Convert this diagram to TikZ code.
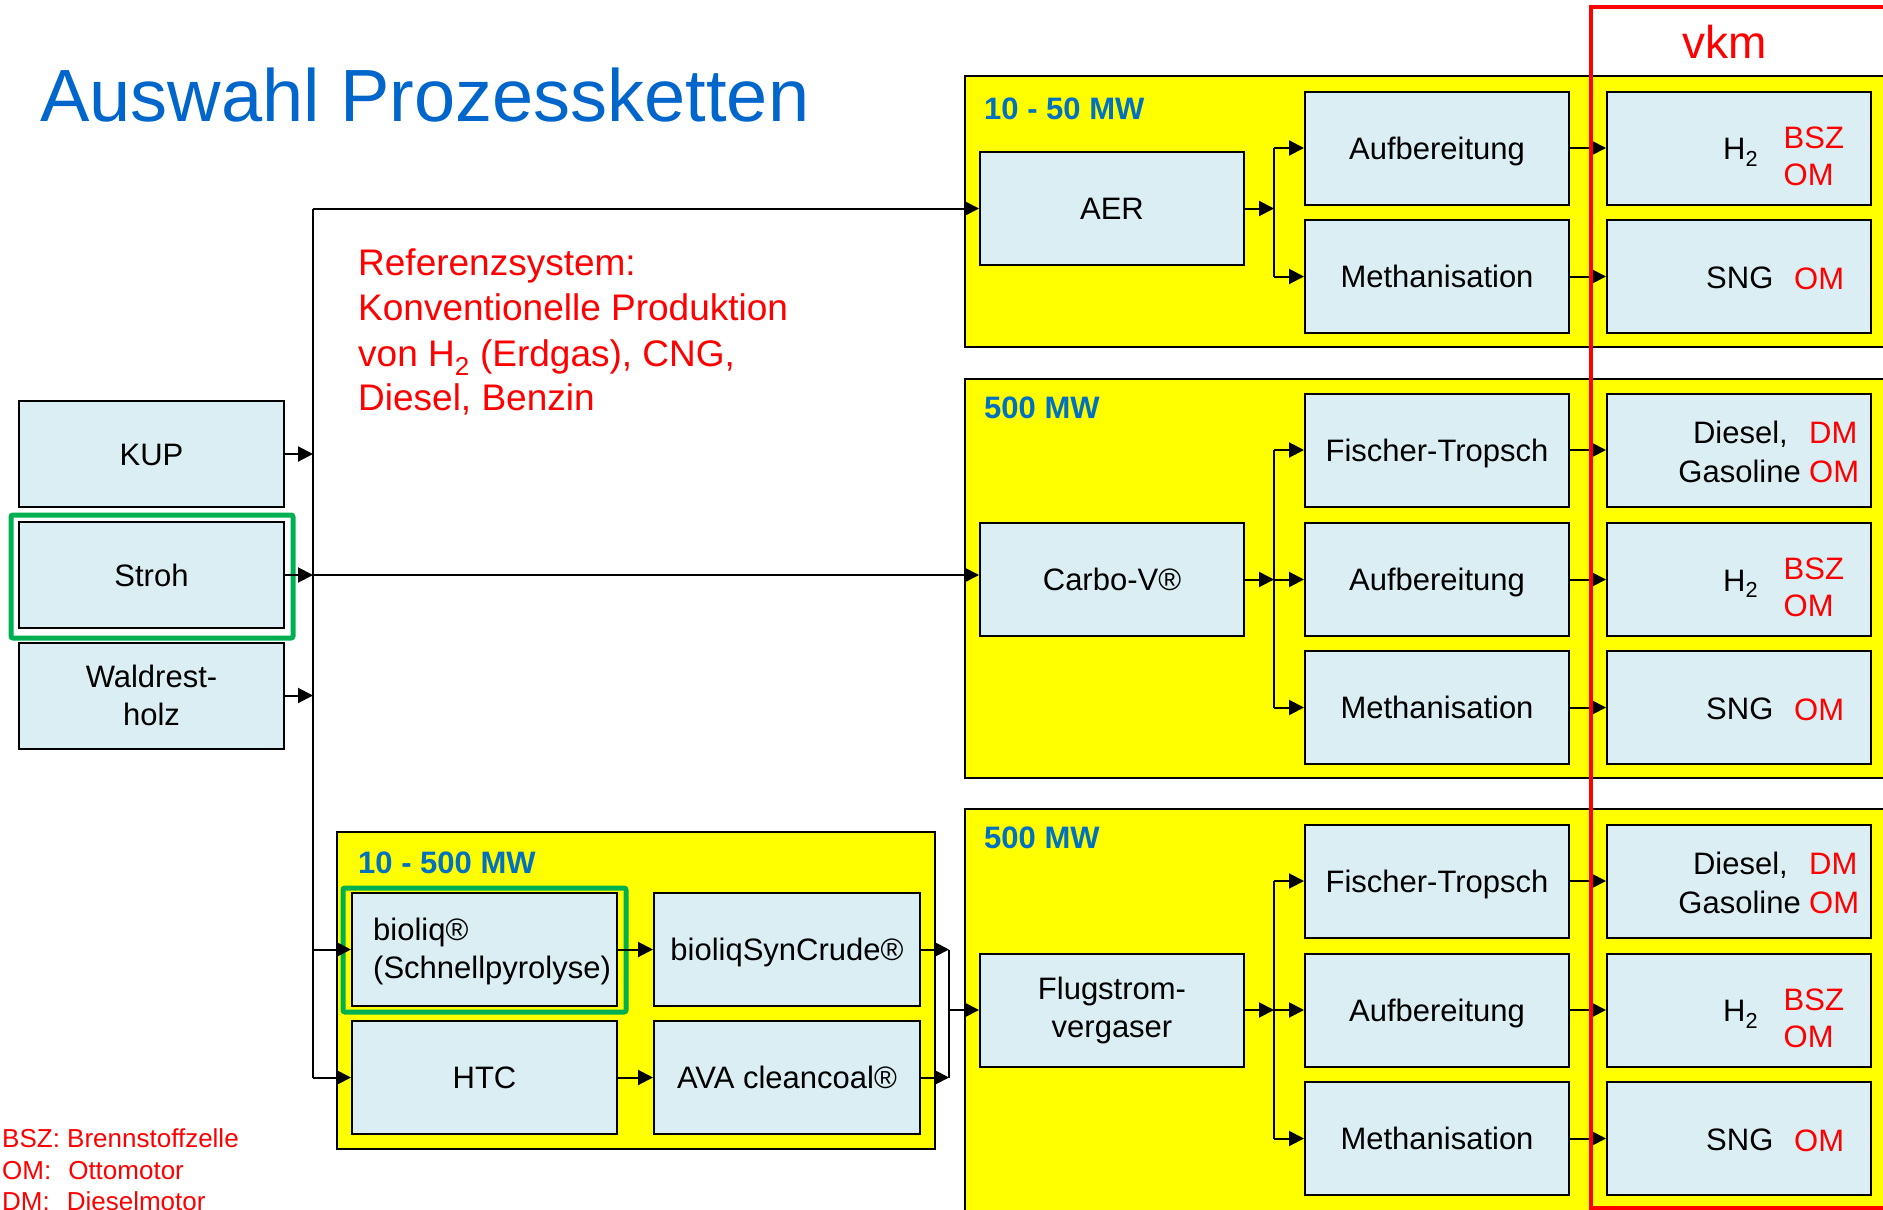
\documentclass[tikz,border=0pt]{standalone}
\usepackage{fontspec}
\setmainfont{Liberation Sans}
\usetikzlibrary{arrows.meta}
\definecolor{boxfill}{HTML}{DAEEF3}
\definecolor{ttlblue}{HTML}{0066CC}
\definecolor{mwblue}{HTML}{0070C0}
\definecolor{grn}{HTML}{00B050}
\definecolor{ylw}{HTML}{FFFF00}
\newcommand{\bxf}{\fontsize{31}{38}\selectfont}
\newcommand{\mwf}{\fontsize{31}{38}\selectfont\bfseries}
\newcommand{\reff}{\fontsize{37}{45}\selectfont}
\newcommand{\legf}{\fontsize{26}{31}\selectfont}
\newcommand{\hprod}[2]{%
 \node[pbox] (#1) at (1739,#2) {};
 \node[blktx,anchor=base west] (#1t) at (1723,#2+11.5) {H\textsubscript{2}};
 \node[redtx,anchor=base west] (#1a) at (1783.5,#2+0) {BSZ};
 \node[redtx,anchor=base west] (#1b) at (1783.5,#2+37) {OM};}
\newcommand{\sprod}[2]{%
 \node[pbox] (#1) at (1739,#2) {};
 \node[blktx,anchor=base west] (#1t) at (1706,#2+11.5) {SNG};
 \node[redtx,anchor=base west] (#1a) at (1794,#2+13) {OM};}
\newcommand{\dprod}[2]{%
 \node[pbox] (#1) at (1739,#2) {};
 \node[blktx,anchor=base east] (#1t) at (1788,#2-7) {Diesel,};
 \node[blktx,anchor=base east] (#1u) at (1801,#2+32) {Gasoline};
 \node[redtx,anchor=base west] (#1a) at (1809,#2-7) {DM};
 \node[redtx,anchor=base west] (#1b) at (1809,#2+32) {OM};}
\begin{document}
\begin{tikzpicture}[x=1pt,y=-1pt,
 pbox/.style={draw=black, line width=2pt, fill=boxfill, inner sep=0pt, minimum width=264pt, minimum height=113pt, font=\bxf, text height=22pt, text depth=0pt},
 pboxm/.style={draw=black, line width=2pt, fill=boxfill, inner sep=0pt, minimum width=264pt, minimum height=113pt, font=\bxf, align=center},
 leftbox/.style={pbox, minimum width=265pt, minimum height=106pt},
 leftboxm/.style={pboxm, minimum width=265pt, minimum height=106pt},
 ybox/.style={draw=black, line width=1.8pt, fill=ylw},
 gbox/.style={draw=grn, line width=5pt, rounded corners=2pt},
 arr/.style={line width=2pt, -{Triangle[length=15pt,width=15pt]}},
 ln/.style={line width=2pt},
 redtx/.style={text=red, font=\bxf, inner sep=0pt},
 blktx/.style={font=\bxf, inner sep=0pt},
 mwlbl/.style={text=mwblue, font=\mwf, inner sep=0pt, anchor=west},
 reftx/.style={text=red, font=\reff, inner sep=0pt, anchor=base west},
 legtx/.style={text=red, font=\legf, inner sep=0pt, anchor=base west}]
\useasboundingbox (0,0) rectangle (1883,1210);
\clip (0,0) rectangle (1883,1210);
\fill[white] (0,0) rectangle (1883,1210);

% yellow group areas
\draw[ybox] (965,76) rectangle (1910,347);
\draw[ybox] (965,379) rectangle (1910,778);
\draw[ybox] (965,809) rectangle (1910,1240);
\draw[ybox] (337,832) rectangle (935,1149);

% title and texts
\node[text=ttlblue, font=\fontsize{74}{88}\selectfont, inner sep=0pt, anchor=base west] (title) at (40,121) {Auswahl Prozessketten};
\node[text=red, font=\fontsize{46}{55}\selectfont, inner sep=0pt, anchor=base] (vkm) at (1725,58) {vkm};
\node[reftx] (ref1) at (358,275) {Referenzsystem:};
\node[reftx] (ref2) at (358,320) {Konventionelle Produktion};
\node[reftx] (ref3) at (358,366) {von H\textsubscript{2} (Erdgas), CNG,};
\node[reftx] (ref4) at (358,410) {Diesel, Benzin};
\node[legtx] (leg1) at (2,1147) {BSZ: Brennstoffzelle};
\node[legtx] (leg2) at (2,1179) {OM:\hspace{17pt}Ottomotor};
\node[legtx] (leg3) at (2,1210.5) {DM:\hspace{17pt}Dieselmotor};

\node[mwlbl] (mw1) at (984,108.5) {10 - 50 MW};
\node[mwlbl] (mw2) at (984,408) {500 MW};
\node[mwlbl] (mw3) at (984,838) {500 MW};
\node[mwlbl] (mw4) at (358,863) {10 - 500 MW};

% left column
\node[leftbox] (kup) at (151.5,454) {KUP};
\node[leftbox] (stroh) at (151.5,575) {Stroh};
\node[leftboxm] (wald) at (151.5,695.5) {Waldrest-\\holz};

% group 1
\node[pbox] (aer) at (1112,208.5) {AER};
\node[pbox] (aufa) at (1437,148) {Aufbereitung};
\node[pbox] (metha) at (1437,276.5) {Methanisation};
\hprod{h2a}{148}
\sprod{snga}{276.5}

% group 2
\node[pbox] (carbo) at (1112,579.5) {Carbo-V®};
\node[pbox] (ftb) at (1437,450) {Fischer-Tropsch};
\node[pbox] (aufb) at (1437,579.5) {Aufbereitung};
\node[pbox] (methb) at (1437,707.5) {Methanisation};
\dprod{dslb}{450}
\hprod{h2b}{579.5}
\sprod{sngb}{707.5}

% group 3
\node[pboxm] (flug) at (1112,1010) {Flugstrom-\\vergaser};
\node[pbox] (ftc) at (1437,881) {Fischer-Tropsch};
\node[pbox] (aufc) at (1437,1010) {Aufbereitung};
\node[pbox] (methc) at (1437,1138.5) {Methanisation};
\dprod{dslc}{881}
\hprod{h2c}{1010}
\sprod{sngc}{1138.5}

% group 4
\node[pbox, minimum width=265pt] (bioliq) at (484.5,949.5) {};
\node[blktx, align=left, anchor=west] (bioliqt) at (373,951) {bioliq®\\(Schnellpyrolyse)};
\node[pbox, minimum width=266pt] (syn) at (787,949.5) {bioliqSynCrude®};
\node[pbox, minimum width=265pt] (htc) at (484.5,1077.5) {HTC};
\node[pbox, minimum width=266pt] (ava) at (787,1077.5) {AVA cleancoal®};

% green highlights
\draw[gbox] (11,515) rectangle (293,638);
\draw[gbox] (343,888) rectangle (626,1012);

% bus
\coordinate (bt) at (313,208.5);
\draw[ln] (bt) -- (bt |- htc);
\draw[arr] (bt) -- (aer);
\draw[arr] (kup) -- (kup -| bt);
\draw[arr] (stroh) -- (stroh -| bt);
\draw[arr] (stroh -| bt) -- (stroh -| carbo.west);
\draw[arr] (wald) -- (wald -| bt);
\draw[arr] (bioliq -| bt) -- (bioliq);
\draw[arr] (htc -| bt) -- (htc);

% group 4 flows
\coordinate (m4) at (949,1010);
\draw[arr] (bioliq) -- (syn);
\draw[arr] (htc) -- (ava);
\draw[arr] (syn) -- (syn -| m4);
\draw[arr] (ava) -- (ava -| m4);
\draw[ln] (syn -| m4) -- (ava -| m4);
\draw[arr] (m4 |- flug) -- (flug);

% group 1 flows
\coordinate (j1) at (1274,208.5);
\draw[arr] (aer) -- (j1);
\draw[ln] (j1 |- aufa) -- (j1 |- metha);
\draw[arr] (j1 |- aufa) -- (aufa);
\draw[arr] (j1 |- metha) -- (metha);
\draw[arr] (aufa) -- (h2a);
\draw[arr] (metha) -- (snga);

% group 2 flows
\coordinate (j2) at (1274,579.5);
\draw[arr] (carbo) -- (j2);
\draw[ln] (j2 |- ftb) -- (j2 |- methb);
\draw[arr] (j2 |- ftb) -- (ftb);
\draw[arr] (j2) -- (aufb);
\draw[arr] (j2 |- methb) -- (methb);
\draw[arr] (ftb) -- (dslb);
\draw[arr] (aufb) -- (h2b);
\draw[arr] (methb) -- (sngb);

% group 3 flows
\coordinate (j3) at (1274,1010);
\draw[arr] (flug) -- (j3);
\draw[ln] (j3 |- ftc) -- (j3 |- methc);
\draw[arr] (j3 |- ftc) -- (ftc);
\draw[arr] (j3) -- (aufc);
\draw[arr] (j3 |- methc) -- (methc);
\draw[arr] (ftc) -- (dslc);
\draw[arr] (aufc) -- (h2c);
\draw[arr] (methc) -- (sngc);

% vkm frame
\draw[red, line width=4pt] (1591,7) rectangle (1920,1208);
\end{tikzpicture}
\end{document}
